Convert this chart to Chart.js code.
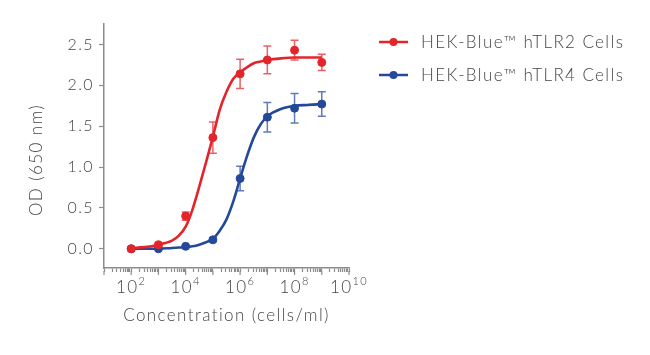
<!DOCTYPE html>
<html><head><meta charset="utf-8">
<script src="https://cdn.jsdelivr.net/npm/chart.js@4/dist/chart.umd.min.js"></script>
<style>html,body{margin:0;padding:0;background:#fff}#wrap{width:650px;height:355px;position:relative}</style>
</head><body><div id="wrap"><canvas id="c" width="650" height="355"></canvas></div>
<script>
// ---- data ----
const concentrations = [1e2, 1e3, 1e4, 1e5, 1e6, 1e7, 1e8, 1e9];
const tlr2Mean = [0.00, 0.05, 0.40, 1.36, 2.14, 2.31, 2.43, 2.28];
const tlr2Err  = [0.02, 0.02, 0.05, 0.19, 0.18, 0.17, 0.12, 0.10];
const tlr4Mean = [0.00, 0.00, 0.03, 0.11, 0.86, 1.61, 1.72, 1.77];
const tlr4Err  = [0.01, 0.01, 0.01, 0.02, 0.15, 0.18, 0.18, 0.15];
// fitted curves at these log10(concentration) positions
const fitLogConc = [2, 2.5, 3, 3.5, 3.75, 4, 4.25, 4.5, 4.75, 5, 5.25, 5.5, 5.75, 6, 6.25, 6.5, 6.75, 7, 7.5, 8, 8.5, 9];
const tlr2Fit = [0.01, 0.02, 0.05, 0.10, 0.16, 0.27, 0.48, 0.76, 1.06, 1.37, 1.70, 1.92, 2.08, 2.16, 2.22, 2.27, 2.29, 2.31, 2.33, 2.34, 2.34, 2.34];
const tlr4Fit = [0.00, 0.00, 0.00, 0.01, 0.015, 0.02, 0.03, 0.05, 0.08, 0.12, 0.22, 0.36, 0.58, 0.86, 1.13, 1.36, 1.52, 1.62, 1.71, 1.75, 1.76, 1.77];
const seriesNames = ['HEK-Blue\u2122 hTLR2 Cells', 'HEK-Blue\u2122 hTLR4 Cells'];
const xTickExponents = [2, 4, 6, 8, 10];
const yTickValues = [0, 0.5, 1.0, 1.5, 2.0, 2.5];
const xTitle = 'Concentration (cells/ml)';
const yTitle = 'OD (650 nm)';

// ---- styles ----
const RED = '#e3242b', BLUE = '#24499a';
const RED_ERR = 'rgba(227,36,43,0.72)', BLUE_ERR = 'rgba(36,73,154,0.72)';
const FONT = 'Lato, "Open Sans", sans-serif';
const TEXT = '#454545';
const AXIS = '#8c8c8c';
const SPACING = '1.4px';

const pts = (xs, ys) => xs.map((x, i) => ({x: x, y: ys[i]}));
const fitConc = fitLogConc.map(e => Math.pow(10, e));

const spacing = {
  id: 'spacing',
  beforeDraw(chart) { chart.ctx.letterSpacing = SPACING; }
};

const errorBars = {
  id: 'errorBars',
  beforeDatasetsDraw(chart) {
    const {ctx, scales: {x, y}} = chart;
    chart.data.datasets.forEach(ds => {
      if (!ds.errors) return;
      ctx.save();
      ctx.strokeStyle = ds.errColor;
      ctx.lineWidth = 1.5;
      ds.data.forEach((p, i) => {
        const e = ds.errors[i];
        const px = x.getPixelForValue(p.x);
        const top = y.getPixelForValue(p.y + e);
        const bot = y.getPixelForValue(p.y - e);
        ctx.beginPath();
        ctx.moveTo(px, top); ctx.lineTo(px, bot);
        ctx.moveTo(px - 4, top); ctx.lineTo(px + 4, top);
        ctx.moveTo(px - 4, bot); ctx.lineTo(px + 4, bot);
        ctx.stroke();
      });
      ctx.restore();
    });
  }
};

const decorations = {
  id: 'decorations',
  afterDraw(chart) {
    const {ctx, scales: {x, y}, chartArea} = chart;
    ctx.save();
    ctx.letterSpacing = SPACING;
    // longer major ticks at each decade
    ctx.strokeStyle = AXIS; ctx.lineWidth = 1.2;
    for (let e = 1; e <= 10; e++) {
      const px = x.getPixelForValue(Math.pow(10, e));
      ctx.beginPath(); ctx.moveTo(px, chartArea.bottom + 3); ctx.lineTo(px, chartArea.bottom + 7); ctx.stroke();
    }
    // x tick labels with superscript exponents
    ctx.fillStyle = TEXT; ctx.textBaseline = 'alphabetic'; ctx.textAlign = 'left';
    xTickExponents.forEach(e => {
      const px = x.getPixelForValue(Math.pow(10, e));
      ctx.font = '300 17px ' + FONT; const w1 = ctx.measureText('10').width;
      ctx.font = '300 11px ' + FONT; const w2 = ctx.measureText(String(e)).width;
      const start = px - (w1 + w2) / 2;
      ctx.font = '300 17px ' + FONT; ctx.fillText('10', start, 293);
      ctx.font = '300 11px ' + FONT; ctx.fillText(String(e), start + w1, 285);
    });
    // y title
    ctx.font = '300 17px ' + FONT;
    ctx.save();
    ctx.translate(37, 160); ctx.rotate(-Math.PI / 2);
    ctx.textAlign = 'center'; ctx.textBaseline = 'middle';
    ctx.fillText(yTitle, 0, 0);
    ctx.restore();
    // legend
    const legendColors = [RED, BLUE];
    const legendY = [42, 75];
    seriesNames.forEach((name, i) => {
      const yy = legendY[i];
      ctx.strokeStyle = legendColors[i]; ctx.lineWidth = 2.5;
      ctx.beginPath(); ctx.moveTo(379, yy); ctx.lineTo(408, yy); ctx.stroke();
      ctx.fillStyle = legendColors[i];
      ctx.beginPath(); ctx.arc(393.5, yy, 4, 0, Math.PI * 2); ctx.fill();
      ctx.fillStyle = TEXT; ctx.font = '300 17px ' + FONT;
      ctx.textAlign = 'left'; ctx.textBaseline = 'middle';
      ctx.fillText(name, 421, yy + 1);
    });
    ctx.restore();
  }
};

new Chart(document.getElementById('c'), {
  type: 'scatter',
  data: {
    datasets: [
      {label: seriesNames[0] + ' points', data: pts(concentrations, tlr2Mean), errors: tlr2Err, errColor: RED_ERR,
       backgroundColor: RED, borderColor: RED, pointRadius: 4, pointHoverRadius: 4, showLine: false},
      {label: seriesNames[0], data: pts(fitConc, tlr2Fit), borderColor: RED, borderWidth: 2.6,
       pointRadius: 0, showLine: true, cubicInterpolationMode: 'monotone', fill: false},
      {label: seriesNames[1] + ' points', data: pts(concentrations, tlr4Mean), errors: tlr4Err, errColor: BLUE_ERR,
       backgroundColor: BLUE, borderColor: BLUE, pointRadius: 4, pointHoverRadius: 4, showLine: false},
      {label: seriesNames[1], data: pts(fitConc, tlr4Fit), borderColor: BLUE, borderWidth: 2.6,
       pointRadius: 0, showLine: true, cubicInterpolationMode: 'monotone', fill: false}
    ]
  },
  options: {
    responsive: false,
    animation: false,
    events: [],
    layout: {padding: {left: 0, top: 24, right: 301, bottom: 0}},
    plugins: {legend: {display: false}, tooltip: {enabled: false}},
    scales: {
      x: {
        type: 'logarithmic', min: 10, max: 1e10,
        afterBuildTicks(scale) {
          const t = [];
          for (let e = 1; e < 10; e++) for (let m = 1; m <= 9; m++) t.push({value: m * Math.pow(10, e)});
          t.push({value: 1e10});
          scale.ticks = t;
        },
        afterFit(scale) { scale.height = 87; },
        ticks: {autoSkip: false, maxRotation: 0, callback: () => '', font: {size: 1}},
        grid: {display: true, drawOnChartArea: false, drawTicks: true, tickLength: 4, tickColor: AXIS, tickWidth: 1.2},
        border: {display: true, color: AXIS, width: 1.5},
        title: {display: true, text: xTitle, color: TEXT, font: {family: FONT, size: 17, weight: '300'}, padding: {top: 0, bottom: 29}}
      },
      y: {
        type: 'linear', min: -0.235, max: 2.75,
        afterBuildTicks(scale) { scale.ticks = yTickValues.map(v => ({value: v})); },
        afterFit(scale) { scale.width = 104; },
        ticks: {color: TEXT, font: {family: FONT, size: 16, weight: '300'}, padding: 5, callback: v => Number(v).toFixed(1)},
        grid: {display: true, drawOnChartArea: false, drawTicks: true, tickLength: 5, tickColor: AXIS, tickWidth: 1.2},
        border: {display: true, color: AXIS, width: 1.5}
      }
    }
  },
  plugins: [spacing, errorBars, decorations]
});
</script>
</body></html>
